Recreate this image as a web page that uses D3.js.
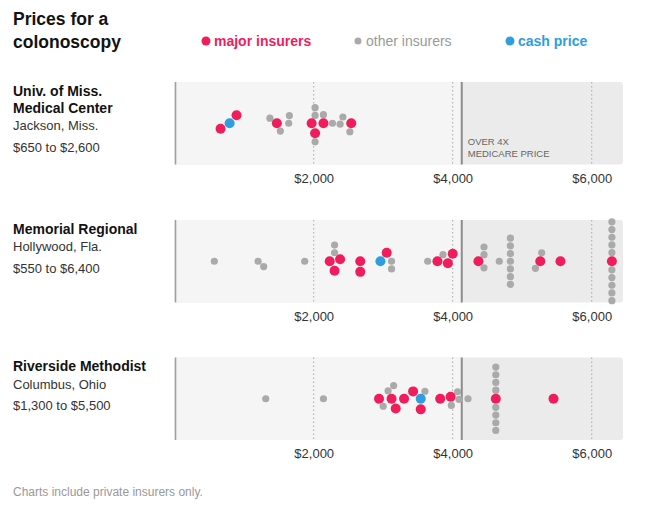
<!DOCTYPE html>
<html>
<head>
<meta charset="utf-8">
<script src="https://cdn.jsdelivr.net/npm/d3@7"></script>
<style>
  html, body { margin: 0; padding: 0; background: #fff; }
  svg { display: block; font-family: "Liberation Sans", Arial, sans-serif; }
</style>
</head>
<body>
<svg id="chart" width="650" height="520"></svg>
<script>
// ---------- data ----------
const hospitalNames = [["Univ. of Miss.", "Medical Center"], ["Memorial Regional"], ["Riverside Methodist"]];
const hospitalCities = ["Jackson, Miss.", "Hollywood, Fla.", "Columbus, Ohio"];
const priceRanges = ["$650 to $2,600", "$550 to $6,400", "$1,300 to $5,500"];

const majorInsurerPrices = [
  [660, 890, 1470, 1970, 2020, 2140, 2540],
  [2230, 2300, 2380, 2670, 2670, 3050, 3780, 3930, 4000, 4370, 5260, 5550, 6290],
  [2940, 3120, 3180, 3300, 3430, 3540, 3820, 3970, 4620, 5450]
];
const otherInsurerPrices = [
  [1370, 1520, 1640, 1650, 2020, 2020, 2020, 2140, 2270, 2380, 2420, 2520],
  [570, 1200, 1280, 1870, 2300, 2300, 3120, 3120, 3640, 3860, 4450, 4450, 4450, 4670,
   4830, 4830, 4830, 4830, 4830, 4830, 4830, 5190, 5280,
   6290, 6290, 6290, 6290, 6290, 6290, 6290, 6290, 6290, 6290],
  [1310, 2140, 3000, 3070, 3150, 3600, 3980, 4070, 4090, 4220,
   4620, 4620, 4620, 4620, 4620, 4620, 4620, 4620]
];
const cashPrices = [790, 2960, 3540];
const medicareThreshold = [4130, 4130, 4130];
const tickValues = [2000, 4000, 6000];
const legendLabels = ["major insurers", "other insurers", "cash price"];
const titleLines = ["Prices for a", "colonoscopy"];
const footnote = "Charts include private insurers only.";

// ---------- layout ----------
const RED = "#f01c5c", GRAY = "#aaaaaa", BLUE = "#2d9ee0";
const svg = d3.select("#chart");
const x = d3.scaleLinear().domain([0, 6450]).range([174.7, 623]);
const panelTops = [82, 220, 357.5];
const panelH = 82.5;

// title
svg.append("g").selectAll("text").data(titleLines).join("text")
  .attr("x", 13).attr("y", (d, i) => 25 + i * 23)
  .attr("font-size", 17.5).attr("font-weight", "bold").attr("fill", "#121212")
  .text(d => d);

// legend
const legendItems = [
  {label: legendLabels[0], color: RED, r: 4.5, bold: true, tx: 214, cx: 206, tcolor: RED},
  {label: legendLabels[1], color: GRAY, r: 3.5, bold: false, tx: 366, cx: 358, tcolor: "#999"},
  {label: legendLabels[2], color: BLUE, r: 4.5, bold: true, tx: 518, cx: 510, tcolor: BLUE}
];
const lg = svg.append("g");
lg.selectAll("circle").data(legendItems).join("circle")
  .attr("cx", d => d.cx).attr("cy", 41).attr("r", d => d.r).attr("fill", d => d.color);
lg.selectAll("text").data(legendItems).join("text")
  .attr("x", d => d.tx).attr("y", 45.5)
  .attr("font-size", 14).attr("font-weight", d => d.bold ? "bold" : "normal")
  .attr("fill", d => d.tcolor).text(d => d.label);

// greedy two-sided beeswarm (layout only, positions derived from the scale)
function minDist(a, b) {
  if (a.type === "other" && b.type === "other") return 7.7;
  if (a.type === "other" || b.type === "other") return 8.6;
  return 10.6;
}
function beeswarm(nodes) {
  const placed = [];
  let flip = -1;
  nodes.forEach(n => {
    const cands = [0];
    placed.forEach(p => {
      const D = minDist(n, p), dx = n.x - p.x;
      if (Math.abs(dx) < D) {
        const h = Math.sqrt(D * D - dx * dx);
        cands.push(p.off + h, p.off - h);
      }
    });
    const ok = cands.filter(c => placed.every(p => {
      const D = minDist(n, p), dx = n.x - p.x, dy = c - p.off;
      return dx * dx + dy * dy >= D * D - 1e-6;
    }));
    ok.sort((a, b) => {
      const d = Math.abs(a) - Math.abs(b);
      if (Math.abs(d) > 1e-6) return d;
      return flip * (a - b);
    });
    n.off = ok[0];
    if (n.off !== 0) flip = -flip;
    placed.push(n);
  });
}

// panels
panelTops.forEach((top, p) => {
  const g = svg.append("g");
  const cy = top + panelH / 2;
  const x0 = x(0), x1 = x(6450), xm = x(medicareThreshold[p]);

  g.append("rect").attr("x", x0).attr("y", top).attr("width", x1 - x0).attr("height", panelH)
    .attr("rx", 3).attr("fill", "#ebebeb");
  g.append("rect").attr("x", x0).attr("y", top).attr("width", xm - x0).attr("height", panelH)
    .attr("fill", "#f5f5f5");

  g.selectAll("line.grid").data(tickValues).join("line").attr("class", "grid")
    .attr("x1", d => x(d)).attr("x2", d => x(d))
    .attr("y1", top).attr("y2", top + panelH)
    .attr("stroke", "#a8a8a8").attr("stroke-width", 1).attr("stroke-dasharray", "1.5,2.5");

  g.append("line").attr("x1", x0 + 0.8).attr("x2", x0 + 0.8).attr("y1", top).attr("y2", top + panelH)
    .attr("stroke", "#a0a0a0").attr("stroke-width", 1.6);
  g.append("line").attr("x1", xm).attr("x2", xm).attr("y1", top).attr("y2", top + panelH)
    .attr("stroke", "#8c8c8c").attr("stroke-width", 2);

  if (p === 0) {
    g.append("text").attr("x", xm + 6).attr("y", top + 63).attr("font-size", 9.5).attr("fill", "#666")
      .text("OVER 4X");
    g.append("text").attr("x", xm + 6).attr("y", top + 75).attr("font-size", 9.5).attr("fill", "#666")
      .text("MEDICARE PRICE");
  }

  const axis = d3.axisBottom(x).tickValues(tickValues).tickSize(0).tickPadding(0)
    .tickFormat(d => "$" + d3.format(",")(d));
  const ag = g.append("g").attr("transform", `translate(0,${top + panelH})`).call(axis);
  ag.select(".domain").remove();
  ag.selectAll("text").attr("dy", null).attr("y", 18).attr("font-size", 13)
    .attr("font-family", "Liberation Sans, Arial, sans-serif").attr("fill", "#333");

  const names = hospitalNames[p];
  names.forEach((n, i) => {
    g.append("text").attr("x", 13).attr("y", top + 13.5 + i * 17)
      .attr("font-size", 14).attr("font-weight", "bold").attr("fill", "#121212").text(n);
  });
  const cityY = top + 13.5 + (names.length - 1) * 17 + 17.5;
  g.append("text").attr("x", 13).attr("y", cityY).attr("font-size", 13).attr("fill", "#333")
    .text(hospitalCities[p]);
  g.append("text").attr("x", 13).attr("y", cityY + 21.5).attr("font-size", 13).attr("fill", "#333")
    .text(priceRanges[p]);

  const nodes = [];
  nodes.push({value: cashPrices[p], type: "cash"});
  majorInsurerPrices[p].forEach(v => nodes.push({value: v, type: "major"}));
  otherInsurerPrices[p].forEach(v => nodes.push({value: v, type: "other"}));
  nodes.forEach(d => { d.x = x(d.value); });
  beeswarm(nodes);

  const order = {other: 0, major: 1, cash: 2};
  const sorted = nodes.slice().sort((a, b) => order[a.type] - order[b.type]);
  g.append("g").selectAll("circle").data(sorted).join("circle")
    .attr("cx", d => d.x).attr("cy", d => cy + d.off)
    .attr("r", d => d.type === "other" ? 3.6 : 5)
    .attr("fill", d => d.type === "other" ? GRAY : d.type === "major" ? RED : BLUE);
});

svg.append("text").attr("x", 13).attr("y", 496).attr("font-size", 12).attr("fill", "#999")
  .text(footnote);
</script>
</body>
</html>
